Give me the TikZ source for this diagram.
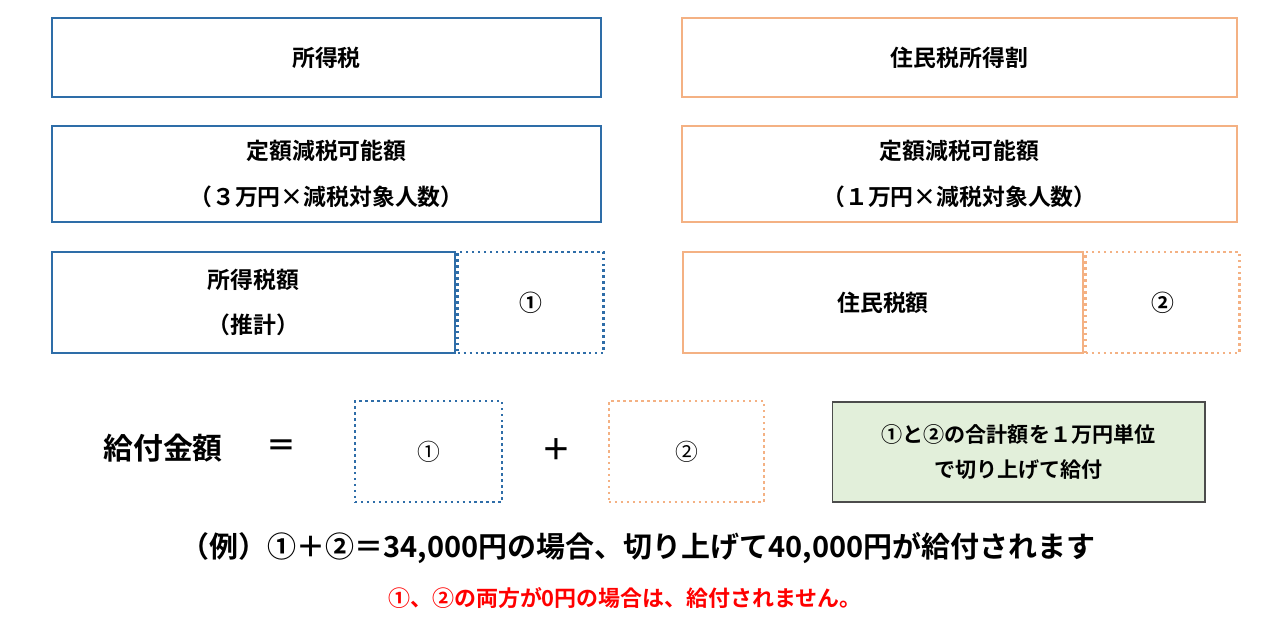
\documentclass[tikz,border=0pt]{standalone}
\usepackage{fontspec}
\setmainfont{Noto Sans CJK JP}[BoldFont={Noto Sans CJK JP Bold}]
\usetikzlibrary{positioning}
\definecolor{taxblue}{HTML}{2E6DA8}
\definecolor{resorange}{HTML}{F4B183}
\definecolor{notegreen}{HTML}{E2EFDA}
\tikzset{
  box/.style={rectangle, draw, line width=1.4pt, inner sep=0pt, align=center, font=\bfseries\fontsize{13}{26}\selectfont},
  dotbox/.style={box, dotted, line width=1.6pt}
}
\begin{document}
\begin{tikzpicture}[x=0.02cm, y=-0.02cm]
    \useasboundingbox (0,0) rectangle (1280,617);

    % Top row
    \node[box, draw=taxblue, minimum width=10.98cm, minimum height=1.58cm] (shotoku) at (326.5,57.5) {所得税};
    \node[box, draw=resorange, minimum width=11.1cm, minimum height=1.58cm] (jumin) at (959.5,57.5) {住民税所得割};

    % Deduction boxes
    \node[box, draw=taxblue, minimum width=10.98cm, minimum height=1.92cm] (gengakuA) at (326.5,174) {定額減税可能額\\（３万円×減税対象人数）};
    \node[box, draw=resorange, minimum width=11.1cm, minimum height=1.92cm] (gengakuB) at (959.5,174) {定額減税可能額\\（１万円×減税対象人数）};

    % Tax amount boxes
    \node[box, draw=taxblue, minimum width=8.06cm, minimum height=2.02cm] (shotokugaku) at (253.5,302.5) {所得税額\\（推計）};
    \node[dotbox, draw=taxblue, minimum width=2.92cm, minimum height=2.02cm, right=0pt of shotokugaku] (diffA) {①};
    \node[box, draw=resorange, minimum width=8.0cm, minimum height=2.02cm] (jumingaku) at (883,302.5) {住民税額};
    \node[dotbox, draw=resorange, minimum width=3.08cm, minimum height=2.02cm, right=0pt of jumingaku] (diffB) {②};

    % Formula
    \node[font=\bfseries\fontsize{17}{20}\selectfont] (kyufu) at (163,448) {給付金額};
    \node[font=\bfseries\fontsize{17}{20}\selectfont] (eq) at (281,448) {＝};
    \node[dotbox, draw=taxblue, font=\fontsize{13}{16}\selectfont, minimum width=2.94cm, minimum height=2.02cm] (sumA) at (428.5,451.5) {①};
    \node[font=\bfseries\fontsize{17}{20}\selectfont] (plus) at (556,450) {＋};
    \node[dotbox, draw=resorange, font=\fontsize{13}{16}\selectfont, minimum width=3.1cm, minimum height=2.02cm] (sumB) at (686.5,451.5) {②};
    \node[rectangle, draw=black!70, fill=notegreen, line width=0.6pt, align=center, font=\bfseries\fontsize{12}{20}\selectfont, minimum width=7.46cm, minimum height=2.0cm] (note) at (1018.5,452) {①と②の合計額を１万円単位\\で切り上げて給付};

    % Example lines
    \node[font=\bfseries\fontsize{16.5}{20}\selectfont] (example) at (638,548) {（例）①＋②＝34,000円の場合、切り上げて40,000円が給付されます};
    \node[font=\bfseries\fontsize{12.5}{16}\selectfont, text=red] (caution) at (625,598) {①、②の両方が0円の場合は、給付されません。};

  \end{tikzpicture}
\end{document}
